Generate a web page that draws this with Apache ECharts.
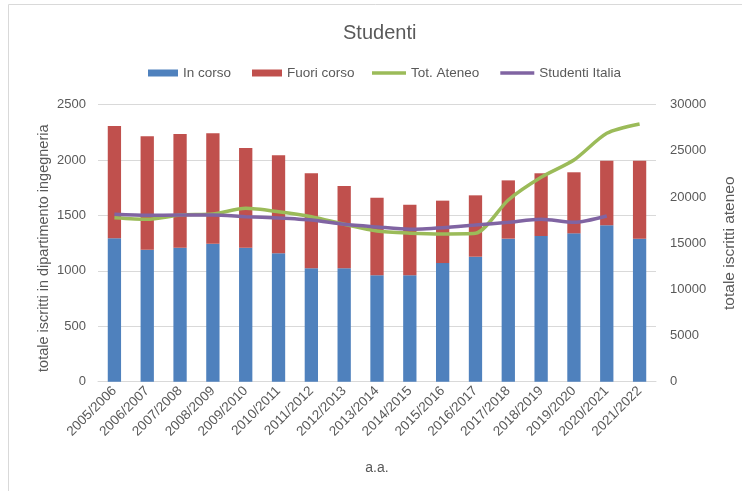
<!DOCTYPE html>
<html><head><meta charset="utf-8">
<script src="https://cdn.jsdelivr.net/npm/echarts@6/dist/echarts.min.js"></script>
<style>html,body{margin:0;padding:0;background:#fff}#c{width:742px;height:491px}</style>
</head><body><div id="c"></div>
<script>
const categories = ['2005/2006','2006/2007','2007/2008','2008/2009','2009/2010','2010/2011','2011/2012','2012/2013','2013/2014','2014/2015','2015/2016','2016/2017','2017/2018','2018/2019','2019/2020','2020/2021','2021/2022'];
const inCorso = [1294,1191,1210,1246,1210,1159,1023,1023,960,960,1071,1128,1291,1315,1339,1411,1291];
const fuoriCorso = [1014,1024,1026,996,899,884,858,743,701,637,563,554,526,566,551,584,704];
const totAteneo = [17760,17590,18050,18160,18780,18410,17870,17050,16320,16090,16000,16070,19680,22140,24010,26900,27910];
const studentiItalia = [18130,18020,18050,18050,17870,17730,17510,17050,16760,16510,16680,16970,17260,17590,17260,17950,null];
const leftTicks = {min:0,max:2500,interval:500};
const rightTicks = {min:0,max:30000,interval:5000};

const FONT = 'Liberation Sans';
const TXT = '#595959';
const plain = v => String(v);
const chart = echarts.init(document.getElementById('c'), null, {renderer:'canvas'});
chart.setOption({
  animation:false,
  textStyle:{fontFamily:FONT},
  graphic:[{type:'rect',shape:{x:8.5,y:4.5,width:760,height:520},style:{fill:'none',stroke:'#D9D9D9',lineWidth:1},silent:true}],
  title:{text:'Studenti',left:338,top:18,textStyle:{fontFamily:FONT,fontSize:20,fontWeight:'normal',color:TXT}},
  legend:[
    {top:66,left:148,padding:0,itemWidth:30,itemHeight:7,itemGap:21,
     textStyle:{fontFamily:FONT,fontSize:13.5,color:TXT},
     data:[{name:'In corso',icon:'rect'},{name:'Fuori corso',icon:'rect'}]},
    {top:66,left:372,padding:0,itemWidth:34,itemHeight:3.5,itemGap:21,
     textStyle:{fontFamily:FONT,fontSize:13.5,color:TXT},
     data:[{name:'Tot. Ateneo',icon:'rect'},{name:'Studenti Italia',icon:'rect'}]}
  ],
  grid:{left:98,right:86,top:104.7,bottom:109.3,outerBoundsMode:'none',containLabel:false},
  xAxis:{type:'category',data:categories,
    name:'a.a.',nameLocation:'middle',nameGap:79,nameMoveOverlap:false,nameTextStyle:{fontFamily:FONT,fontSize:14,color:TXT},
    axisLine:{lineStyle:{color:'#D9D9D9'}},axisTick:{show:false},
    axisLabel:{rotate:45,interval:0,fontFamily:FONT,fontSize:13.5,color:TXT,margin:7}},
  yAxis:[
    {type:'value',min:leftTicks.min,max:leftTicks.max,interval:leftTicks.interval,
     name:'totale iscritti in dipartimento ingegneria',nameLocation:'middle',nameGap:47,nameRotate:90,nameMoveOverlap:false,
     nameTextStyle:{fontFamily:FONT,fontSize:14.5,color:TXT,padding:[0,10,0,0]},
     axisLabel:{fontFamily:FONT,fontSize:13,color:TXT,margin:12,formatter:plain},
     splitLine:{lineStyle:{color:'#D9D9D9',width:1}},axisLine:{show:false},axisTick:{show:false}},
    {type:'value',min:rightTicks.min,max:rightTicks.max,interval:rightTicks.interval,position:'right',
     name:'totale iscritti ateneo',nameLocation:'middle',nameGap:66,nameRotate:90,nameMoveOverlap:false,
     nameTextStyle:{fontFamily:FONT,fontSize:15.5,color:TXT},
     axisLabel:{fontFamily:FONT,fontSize:13,color:TXT,margin:14,formatter:plain},
     splitLine:{show:false},axisLine:{show:false},axisTick:{show:false}}
  ],
  series:[
    {name:'In corso',type:'bar',stack:'s',data:inCorso,barWidth:13.3,itemStyle:{color:'#4F81BD'}},
    {name:'Fuori corso',type:'bar',stack:'s',data:fuoriCorso,barWidth:13.3,itemStyle:{color:'#C0504D'}},
    {name:'Tot. Ateneo',type:'line',yAxisIndex:1,data:totAteneo,smooth:0.25,symbol:'none',
     lineStyle:{color:'#9BBB59',width:3.5},itemStyle:{color:'#9BBB59'}},
    {name:'Studenti Italia',type:'line',yAxisIndex:1,data:studentiItalia,smooth:0.25,symbol:'none',
     lineStyle:{color:'#8064A2',width:3.5},itemStyle:{color:'#8064A2'}}
  ]
});
</script></body></html>
